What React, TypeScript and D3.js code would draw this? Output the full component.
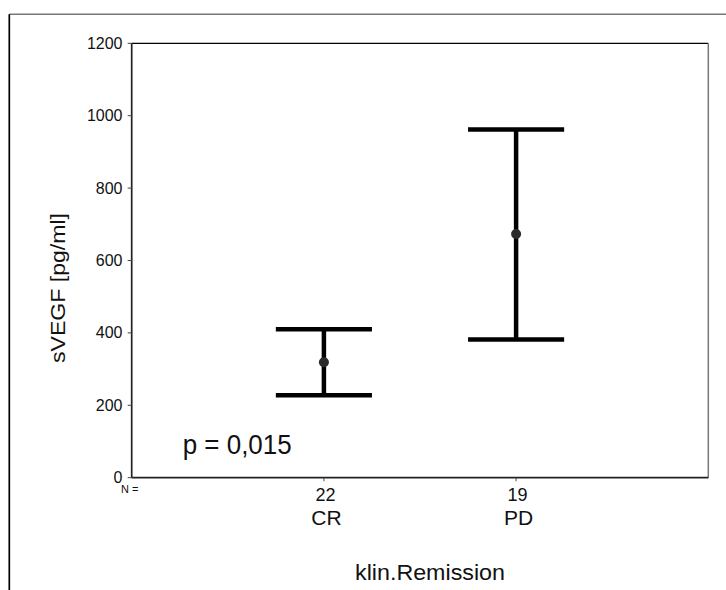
import React from "react";
import * as d3 from "d3";

const categories = ["CR", "PD"];
const counts = [22, 19];
const means = [319, 673];
const lower = [228, 382];
const upper = [410, 962];
const yTicks = [0, 200, 400, 600, 800, 1000, 1200];
const pText = "p = 0,015";
const yTitle = "sVEGF [pg/ml]";
const xTitle = "klin.Remission";

const FONT = "'Liberation Sans', Arial, sans-serif";

export default function App() {
  const W = 726;
  const H = 590;
  const left = 131.7;
  const right = 708.3;
  const top = 43.3;
  const bottom = 477.7;
  const y = d3.scaleLinear().domain([0, 1200]).range([bottom, top]);
  const x = d3.scaleLinear().domain([0, 3]).range([left, right]);
  const capHalf = x(0.25) - x(0);

  return (
    <svg
      width={W}
      height={H}
      style={{ position: "absolute", left: 0, top: 0, background: "#fff" }}
      fontFamily={FONT}
    >
      {/* outer frame */}
      <line x1={9.3} x2={W} y1={14.3} y2={14.3} stroke="#777" strokeWidth={1.5} />
      <line x1={9.3} x2={9.3} y1={14.3} y2={H} stroke="#000" strokeWidth={1.7} />

      {/* plot frame */}
      <line x1={left} x2={right} y1={top} y2={top} stroke="#000" strokeWidth={1.3} />
      <line x1={right} x2={right} y1={top} y2={bottom} stroke="#777" strokeWidth={1.5} />
      <line x1={left} x2={left} y1={top} y2={bottom} stroke="#222" strokeWidth={1.7} />
      <line x1={left} x2={right} y1={bottom} y2={bottom} stroke="#222" strokeWidth={1.7} />

      {/* y ticks */}
      {yTicks.map((t) => (
        <g key={t}>
          <line x1={left - 4} x2={left} y1={y(t)} y2={y(t)} stroke="#444" strokeWidth={1} />
          <text x={122.5} y={y(t) + 5.5} textAnchor="end" fontSize={16} fill="#111">
            {t}
          </text>
        </g>
      ))}

      {/* x ticks and labels */}
      <text x={121} y={493.3} fontSize={11} fill="#111">N =</text>
      {categories.map((c, i) => (
        <g key={c}>
          <line x1={x(i + 1)} x2={x(i + 1)} y1={bottom} y2={bottom + 3.5} stroke="#444" strokeWidth={1} />
          <text x={x(i + 1) + 1.5} y={500.5} textAnchor="middle" fontSize={18} fill="#111">
            {counts[i]}
          </text>
          <text x={x(i + 1) + 2.5} y={525.3} textAnchor="middle" fontSize={21} fill="#111">
            {c}
          </text>
        </g>
      ))}

      {/* error bars */}
      {categories.map((c, i) => {
        const cx = x(i + 1);
        return (
          <g key={"eb" + c}>
            <line x1={cx} x2={cx} y1={y(upper[i])} y2={y(lower[i])} stroke="#000" strokeWidth={4.5} />
            <line x1={cx - capHalf} x2={cx + capHalf} y1={y(upper[i])} y2={y(upper[i])} stroke="#000" strokeWidth={4.5} />
            <line x1={cx - capHalf} x2={cx + capHalf} y1={y(lower[i])} y2={y(lower[i])} stroke="#000" strokeWidth={4.5} />
            <circle cx={cx} cy={y(means[i])} r={5} fill="#2a2a2a" />
          </g>
        );
      })}

      {/* p value */}
      <text x={182.7} y={454.3} fontSize={27} fill="#111" textLength={109} lengthAdjust="spacingAndGlyphs">
        {pText}
      </text>

      {/* axis titles */}
      <text
        transform="translate(65,288) rotate(-90)"
        textAnchor="middle"
        fontSize={21}
        fill="#111"
        textLength={150}
        lengthAdjust="spacingAndGlyphs"
      >
        {yTitle}
      </text>
      <text
        x={430}
        y={580}
        textAnchor="middle"
        fontSize={22}
        fill="#111"
        textLength={150}
        lengthAdjust="spacingAndGlyphs"
      >
        {xTitle}
      </text>
    </svg>
  );
}
